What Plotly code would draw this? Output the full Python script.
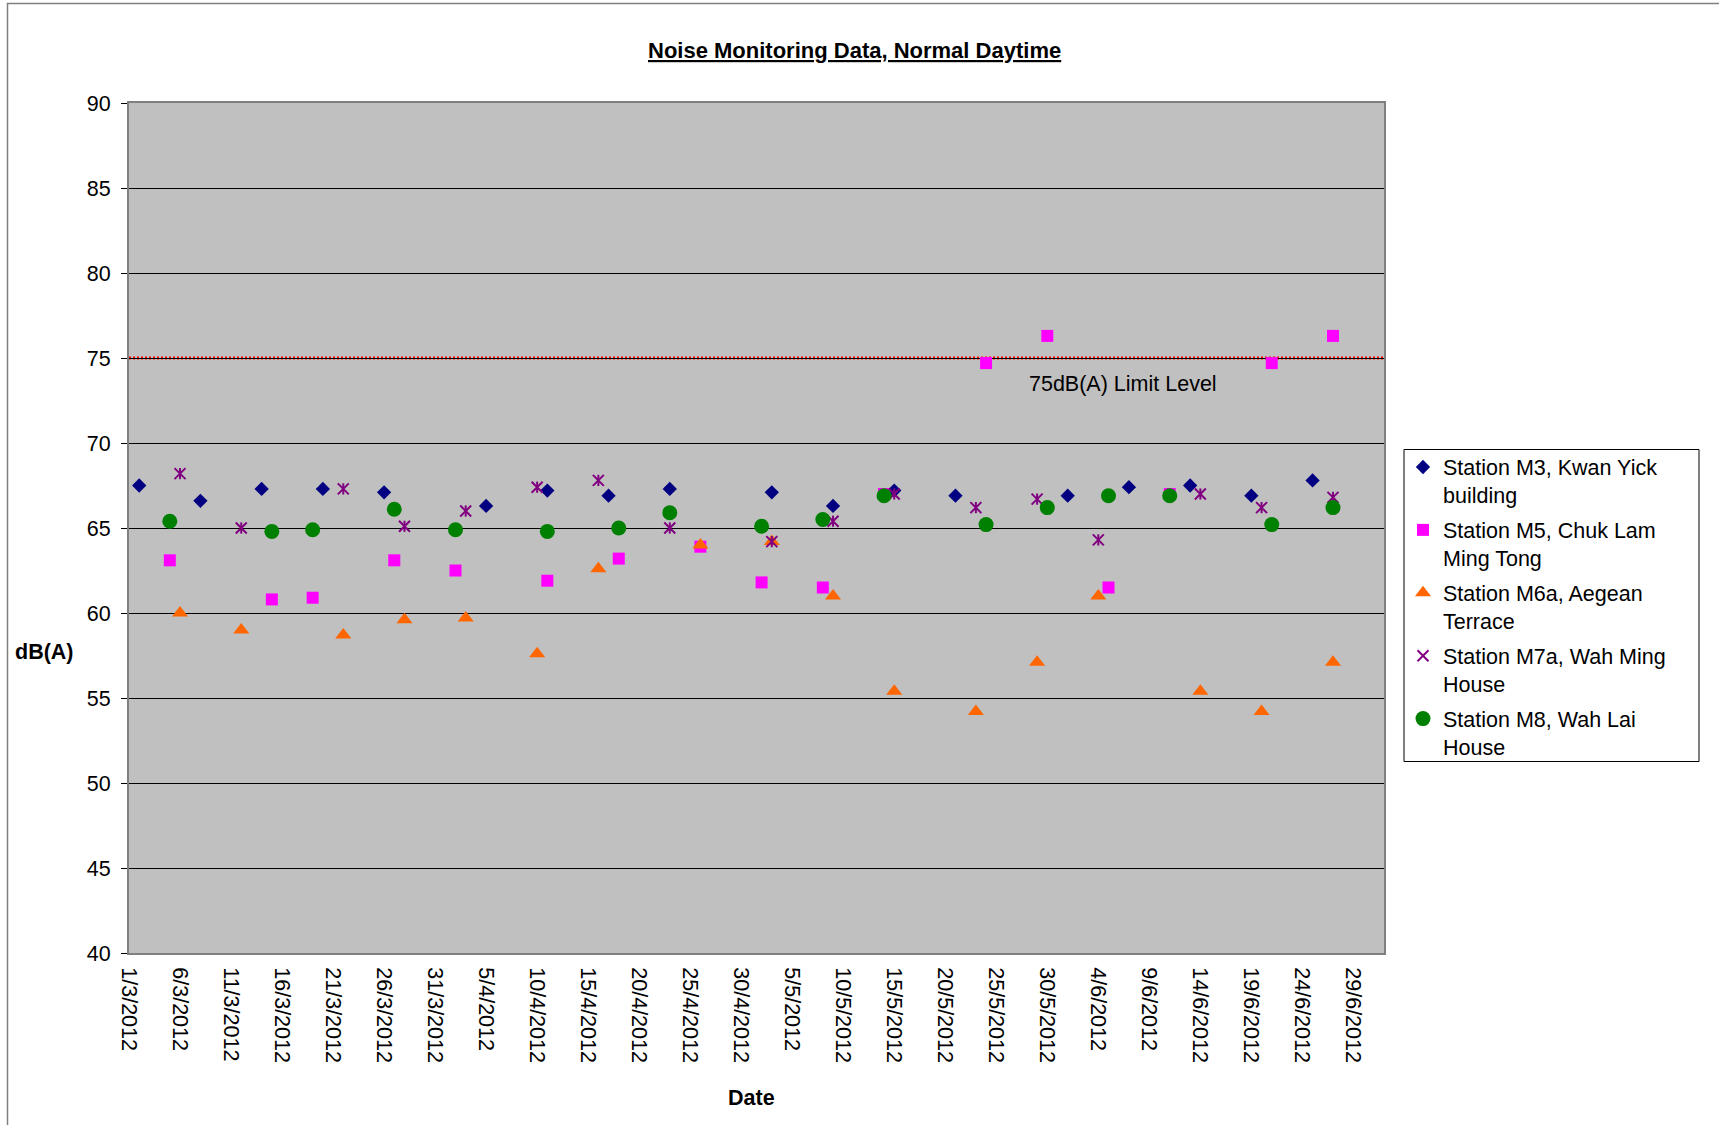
import plotly.graph_objects as go

# ---- measurement data (2012), levels in dB(A) ----
m3_dates = ["2012-03-02", "2012-03-08", "2012-03-14", "2012-03-20", "2012-03-26",
            "2012-04-05", "2012-04-11", "2012-04-17", "2012-04-23",
            "2012-05-03", "2012-05-09", "2012-05-15", "2012-05-21",
            "2012-06-01", "2012-06-07", "2012-06-13", "2012-06-19", "2012-06-25"]
m3_levels = [67.5, 66.6, 67.3, 67.3, 67.1, 66.3, 67.2, 66.9, 67.3,
             67.1, 66.3, 67.2, 66.9, 66.9, 67.4, 67.5, 66.9, 67.8]

m5_dates = ["2012-03-05", "2012-03-15", "2012-03-19", "2012-03-27", "2012-04-02",
            "2012-04-11", "2012-04-18", "2012-04-26", "2012-05-02", "2012-05-08",
            "2012-05-14", "2012-05-24", "2012-05-30", "2012-06-05", "2012-06-11",
            "2012-06-21", "2012-06-27"]
m5_levels = [63.1, 60.8, 60.9, 63.1, 62.5, 61.9, 63.2, 63.9, 61.8, 61.5,
             67.0, 74.7, 76.3, 61.5, 67.0, 74.7, 76.3]

m6a_dates = ["2012-03-06", "2012-03-12", "2012-03-22", "2012-03-28", "2012-04-03",
             "2012-04-10", "2012-04-16", "2012-04-26", "2012-05-03", "2012-05-09",
             "2012-05-15", "2012-05-23", "2012-05-29", "2012-06-04", "2012-06-14",
             "2012-06-20", "2012-06-27"]
m6a_levels = [60.0, 59.0, 58.7, 59.6, 59.7, 57.6, 62.6, 64.0, 64.2, 61.0,
              55.4, 54.2, 57.1, 61.0, 55.4, 54.2, 57.1]

m7a_dates = ["2012-03-06", "2012-03-12", "2012-03-22", "2012-03-28", "2012-04-03",
             "2012-04-10", "2012-04-16", "2012-04-23", "2012-05-03", "2012-05-09",
             "2012-05-15", "2012-05-23", "2012-05-29", "2012-06-04", "2012-06-14",
             "2012-06-20", "2012-06-27"]
m7a_levels = [68.2, 65.0, 67.3, 65.1, 66.0, 67.4, 67.8, 65.0, 64.2, 65.4,
              67.0, 66.2, 66.7, 64.3, 67.0, 66.2, 66.8]

m8_dates = ["2012-03-05", "2012-03-15", "2012-03-19", "2012-03-27", "2012-04-02",
            "2012-04-11", "2012-04-18", "2012-04-23", "2012-05-02", "2012-05-08",
            "2012-05-14", "2012-05-24", "2012-05-30", "2012-06-05", "2012-06-11",
            "2012-06-21", "2012-06-27"]
m8_levels = [65.4, 64.8, 64.9, 66.1, 64.9, 64.8, 65.0, 65.9, 65.1, 65.5,
             66.9, 65.2, 66.2, 66.9, 66.9, 65.2, 66.2]

LIMIT_LEVEL = 75
LIMIT_TEXT = "75dB(A) Limit Level"
TITLE = "Noise Monitoring Data, Normal Daytime"
X_TITLE = "Date"
Y_TITLE = "dB(A)"

# ---- page geometry (pixels) ----
W, H = 1719, 1125
ML, MR, MT, MB = 129, 335, 103, 172
PW, PH = W - ML - MR, H - MT - MB


def px_x(px):
    return (px - ML) / PW


def px_y(py):
    return (H - MB - py) / PH


FONT = "Liberation Sans, Arial, sans-serif"
FS = 21.5

fig = go.Figure()

fig.add_trace(go.Scatter(
    x=m3_dates, y=m3_levels, mode="markers", legendgroup="m3",
    name="Station M3, Kwan Yick<br>building",
    marker=dict(symbol="diamond", size=11, color="#000080"),
))
fig.add_trace(go.Scatter(
    x=m5_dates, y=m5_levels, mode="markers", legendgroup="m5",
    name="Station M5, Chuk Lam<br>Ming Tong",
    marker=dict(symbol="square", size=12, color="#FF00FF"),
))
fig.add_trace(go.Scatter(
    x=m6a_dates, y=m6a_levels, mode="markers", legendgroup="m6a",
    name="Station M6a, Aegean<br>Terrace",
    marker=dict(symbol="triangle-up", size=14, color="#FF6600"),
))
# star marker: diagonal cross plus a vertical stroke
fig.add_trace(go.Scatter(
    x=m7a_dates, y=m7a_levels, mode="markers", legendgroup="m7a",
    name="Station M7a, Wah Ming<br>House",
    marker=dict(symbol="x-thin-open", size=11, color="#800080",
                line=dict(width=2, color="#800080")),
))
fig.add_trace(go.Scatter(
    x=m7a_dates, y=m7a_levels, mode="markers", legendgroup="m7a",
    showlegend=False, hoverinfo="skip",
    marker=dict(symbol="line-ns-open", size=8, color="#800080",
                line=dict(width=2, color="#800080")),
))
fig.add_trace(go.Scatter(
    x=m8_dates, y=m8_levels, mode="markers", legendgroup="m8",
    name="Station M8, Wah Lai<br>House",
    marker=dict(symbol="circle", size=15, color="#008000"),
))

shapes = [
    # limit level line
    dict(type="line", xref="paper", x0=0, x1=1, yref="y", y0=LIMIT_LEVEL, y1=LIMIT_LEVEL,
         line=dict(color="#FF0000", width=3, dash="2px,2px"), layer="between"),
    # legend frame
    dict(type="rect", xref="paper", yref="paper",
         x0=px_x(1404), x1=px_x(1699), y0=px_y(449.5), y1=px_y(761.5),
         line=dict(color="#000000", width=1), fillcolor="rgba(0,0,0,0)"),
    # chart frame
    dict(type="rect", xref="paper", yref="paper",
         x0=px_x(7.5), x1=px_x(1740), y0=px_y(3.5), y1=px_y(1140),
         line=dict(color="#808080", width=1.5), fillcolor="rgba(0,0,0,0)"),
]

annotations = [
    dict(text="<b><u>" + TITLE + "</u></b>", xref="paper", yref="paper",
         x=px_x(855), y=px_y(50), xanchor="center", yanchor="middle",
         showarrow=False, font=dict(size=22, color="#000000", family=FONT)),
    dict(text="<b>" + Y_TITLE + "</b>", xref="paper", yref="paper",
         x=px_x(13), y=px_y(652), xanchor="left", yanchor="middle",
         showarrow=False, font=dict(size=FS, color="#000000", family=FONT)),
    dict(text="<b>" + X_TITLE + "</b>", xref="paper", yref="paper",
         x=px_x(751), y=px_y(1098), xanchor="center", yanchor="middle",
         showarrow=False, font=dict(size=FS, color="#000000", family=FONT)),
    dict(text=LIMIT_TEXT, xref="x", yref="y",
         x="2012-05-28", y=73.45, xanchor="left", yanchor="middle",
         showarrow=False, font=dict(size=FS, color="#000000", family=FONT)),
]

fig.update_layout(
    width=W, height=H,
    margin=dict(l=ML, r=MR, t=MT, b=MB, pad=0),
    paper_bgcolor="#FFFFFF",
    plot_bgcolor="#C0C0C0",
    font=dict(family=FONT, size=FS, color="#000000"),
    showlegend=True,
    legend=dict(
        x=px_x(1403), y=px_y(446.5), xanchor="left", yanchor="top",
        bgcolor="rgba(0,0,0,0)", borderwidth=0,
        font=dict(size=FS, family=FONT, color="#000000"),
        valign="top", tracegroupgap=4, itemsizing="trace",
    ),
    shapes=shapes,
    annotations=annotations,
    xaxis=dict(
        type="date",
        range=["2012-03-01", "2012-07-02"],
        tick0="2012-03-01", dtick=5 * 86400000,
        tickformat="%-d/%-m/%Y", tickangle=90,
        ticks="", showgrid=False, zeroline=False,
        showline=True, linecolor="#808080", linewidth=2, mirror=True,
        tickfont=dict(size=FS, family=FONT, color="#000000"),
        ticklabelstandoff=8,
    ),
    yaxis=dict(
        range=[40, 90], dtick=5, tick0=40,
        ticks="outside", ticklen=6, tickwidth=1, tickcolor="#000000",
        showgrid=True, gridcolor="#000000", gridwidth=1, zeroline=False,
        showline=True, linecolor="#808080", linewidth=2, mirror=True,
        tickfont=dict(size=FS, family=FONT, color="#000000"),
        ticklabelstandoff=6,
    ),
)

fig.write_html("out.html")
